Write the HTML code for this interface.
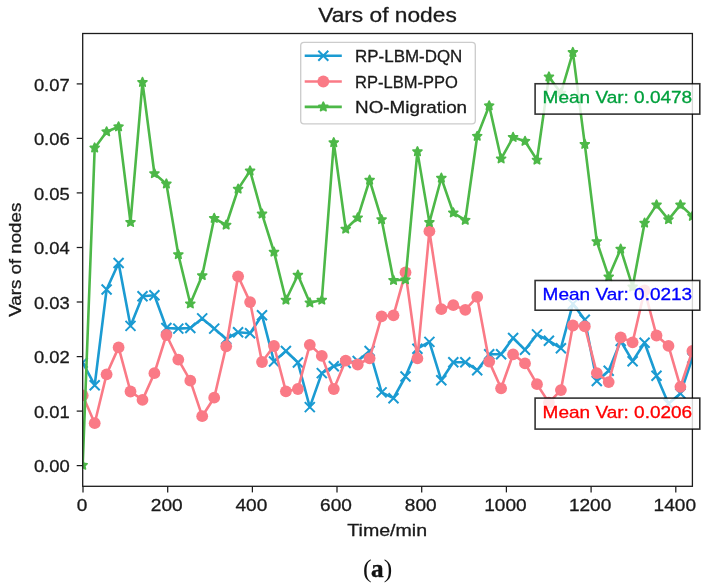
<!DOCTYPE html>
<html><head><meta charset="utf-8"><title>Vars of nodes</title>
<style>
html,body{margin:0;padding:0;background:#fff;}
body{width:707px;height:588px;position:relative;overflow:hidden;font-family:"Liberation Sans",sans-serif;}
svg text{font-family:"Liberation Sans",sans-serif;}
svg{will-change:transform;opacity:0.999;}
</style></head><body>
<svg width="707" height="588" viewBox="0 0 707 588" style="position:absolute;left:0;top:0">
<rect x="0" y="0" width="707" height="588" fill="#fff"/>
<defs><clipPath id="ax"><rect x="82.7" y="33.5" width="609.7" height="452.8"/></clipPath></defs>
<g clip-path="url(#ax)">
<polyline points="82.7,362.6 94.7,385.2 106.6,289.5 118.6,263.0 130.5,325.9 142.5,296.3 154.4,295.2 166.4,328.0 178.3,328.6 190.3,328.0 202.2,318.4 214.2,328.6 226.2,339.0 238.1,332.2 250.1,333.3 262.0,315.2 274.0,361.5 285.9,351.0 297.9,362.5 309.8,407.1 321.8,373.1 333.8,366.2 345.7,363.0 357.7,361.0 369.6,351.0 381.6,392.4 393.5,398.2 405.5,376.5 417.4,348.7 429.4,341.9 441.3,380.3 453.3,362.2 465.3,362.2 477.2,370.2 489.2,354.3 501.1,354.3 513.1,338.0 525.0,349.8 537.0,334.4 548.9,340.8 560.9,348.2 572.9,303.9 584.8,319.8 596.8,381.0 608.7,370.8 620.7,341.0 632.6,361.2 644.6,342.8 656.5,375.8 668.5,403.7 680.4,393.5 692.4,358.0" fill="none" stroke="#1b9bd2" stroke-width="2.60" stroke-linejoin="round" stroke-linecap="butt"/>
<path d="M77.7 357.6L87.7 367.6M77.7 367.6L87.7 357.6" stroke="#1b9bd2" stroke-width="2.00" fill="none"/>
<path d="M89.7 380.2L99.7 390.2M89.7 390.2L99.7 380.2" stroke="#1b9bd2" stroke-width="2.00" fill="none"/>
<path d="M101.6 284.5L111.6 294.5M101.6 294.5L111.6 284.5" stroke="#1b9bd2" stroke-width="2.00" fill="none"/>
<path d="M113.6 258.0L123.6 268.0M113.6 268.0L123.6 258.0" stroke="#1b9bd2" stroke-width="2.00" fill="none"/>
<path d="M125.5 320.9L135.5 330.9M125.5 330.9L135.5 320.9" stroke="#1b9bd2" stroke-width="2.00" fill="none"/>
<path d="M137.5 291.3L147.5 301.3M137.5 301.3L147.5 291.3" stroke="#1b9bd2" stroke-width="2.00" fill="none"/>
<path d="M149.4 290.2L159.4 300.2M149.4 300.2L159.4 290.2" stroke="#1b9bd2" stroke-width="2.00" fill="none"/>
<path d="M161.4 323.0L171.4 333.0M161.4 333.0L171.4 323.0" stroke="#1b9bd2" stroke-width="2.00" fill="none"/>
<path d="M173.3 323.6L183.3 333.6M173.3 333.6L183.3 323.6" stroke="#1b9bd2" stroke-width="2.00" fill="none"/>
<path d="M185.3 323.0L195.3 333.0M185.3 333.0L195.3 323.0" stroke="#1b9bd2" stroke-width="2.00" fill="none"/>
<path d="M197.2 313.4L207.2 323.4M197.2 323.4L207.2 313.4" stroke="#1b9bd2" stroke-width="2.00" fill="none"/>
<path d="M209.2 323.6L219.2 333.6M209.2 333.6L219.2 323.6" stroke="#1b9bd2" stroke-width="2.00" fill="none"/>
<path d="M221.2 334.0L231.2 344.0M221.2 344.0L231.2 334.0" stroke="#1b9bd2" stroke-width="2.00" fill="none"/>
<path d="M233.1 327.2L243.1 337.2M233.1 337.2L243.1 327.2" stroke="#1b9bd2" stroke-width="2.00" fill="none"/>
<path d="M245.1 328.3L255.1 338.3M245.1 338.3L255.1 328.3" stroke="#1b9bd2" stroke-width="2.00" fill="none"/>
<path d="M257.0 310.2L267.0 320.2M257.0 320.2L267.0 310.2" stroke="#1b9bd2" stroke-width="2.00" fill="none"/>
<path d="M269.0 356.5L279.0 366.5M269.0 366.5L279.0 356.5" stroke="#1b9bd2" stroke-width="2.00" fill="none"/>
<path d="M280.9 346.0L290.9 356.0M280.9 356.0L290.9 346.0" stroke="#1b9bd2" stroke-width="2.00" fill="none"/>
<path d="M292.9 357.5L302.9 367.5M292.9 367.5L302.9 357.5" stroke="#1b9bd2" stroke-width="2.00" fill="none"/>
<path d="M304.8 402.1L314.8 412.1M304.8 412.1L314.8 402.1" stroke="#1b9bd2" stroke-width="2.00" fill="none"/>
<path d="M316.8 368.1L326.8 378.1M316.8 378.1L326.8 368.1" stroke="#1b9bd2" stroke-width="2.00" fill="none"/>
<path d="M328.8 361.2L338.8 371.2M328.8 371.2L338.8 361.2" stroke="#1b9bd2" stroke-width="2.00" fill="none"/>
<path d="M340.7 358.0L350.7 368.0M340.7 368.0L350.7 358.0" stroke="#1b9bd2" stroke-width="2.00" fill="none"/>
<path d="M352.7 356.0L362.7 366.0M352.7 366.0L362.7 356.0" stroke="#1b9bd2" stroke-width="2.00" fill="none"/>
<path d="M364.6 346.0L374.6 356.0M364.6 356.0L374.6 346.0" stroke="#1b9bd2" stroke-width="2.00" fill="none"/>
<path d="M376.6 387.4L386.6 397.4M376.6 397.4L386.6 387.4" stroke="#1b9bd2" stroke-width="2.00" fill="none"/>
<path d="M388.5 393.2L398.5 403.2M388.5 403.2L398.5 393.2" stroke="#1b9bd2" stroke-width="2.00" fill="none"/>
<path d="M400.5 371.5L410.5 381.5M400.5 381.5L410.5 371.5" stroke="#1b9bd2" stroke-width="2.00" fill="none"/>
<path d="M412.4 343.7L422.4 353.7M412.4 353.7L422.4 343.7" stroke="#1b9bd2" stroke-width="2.00" fill="none"/>
<path d="M424.4 336.9L434.4 346.9M424.4 346.9L434.4 336.9" stroke="#1b9bd2" stroke-width="2.00" fill="none"/>
<path d="M436.3 375.3L446.3 385.3M436.3 385.3L446.3 375.3" stroke="#1b9bd2" stroke-width="2.00" fill="none"/>
<path d="M448.3 357.2L458.3 367.2M448.3 367.2L458.3 357.2" stroke="#1b9bd2" stroke-width="2.00" fill="none"/>
<path d="M460.3 357.2L470.3 367.2M460.3 367.2L470.3 357.2" stroke="#1b9bd2" stroke-width="2.00" fill="none"/>
<path d="M472.2 365.2L482.2 375.2M472.2 375.2L482.2 365.2" stroke="#1b9bd2" stroke-width="2.00" fill="none"/>
<path d="M484.2 349.3L494.2 359.3M484.2 359.3L494.2 349.3" stroke="#1b9bd2" stroke-width="2.00" fill="none"/>
<path d="M496.1 349.3L506.1 359.3M496.1 359.3L506.1 349.3" stroke="#1b9bd2" stroke-width="2.00" fill="none"/>
<path d="M508.1 333.0L518.1 343.0M508.1 343.0L518.1 333.0" stroke="#1b9bd2" stroke-width="2.00" fill="none"/>
<path d="M520.0 344.8L530.0 354.8M520.0 354.8L530.0 344.8" stroke="#1b9bd2" stroke-width="2.00" fill="none"/>
<path d="M532.0 329.4L542.0 339.4M532.0 339.4L542.0 329.4" stroke="#1b9bd2" stroke-width="2.00" fill="none"/>
<path d="M543.9 335.8L553.9 345.8M543.9 345.8L553.9 335.8" stroke="#1b9bd2" stroke-width="2.00" fill="none"/>
<path d="M555.9 343.2L565.9 353.2M555.9 353.2L565.9 343.2" stroke="#1b9bd2" stroke-width="2.00" fill="none"/>
<path d="M567.9 298.9L577.9 308.9M567.9 308.9L577.9 298.9" stroke="#1b9bd2" stroke-width="2.00" fill="none"/>
<path d="M579.8 314.8L589.8 324.8M579.8 324.8L589.8 314.8" stroke="#1b9bd2" stroke-width="2.00" fill="none"/>
<path d="M591.8 376.0L601.8 386.0M591.8 386.0L601.8 376.0" stroke="#1b9bd2" stroke-width="2.00" fill="none"/>
<path d="M603.7 365.8L613.7 375.8M603.7 375.8L613.7 365.8" stroke="#1b9bd2" stroke-width="2.00" fill="none"/>
<path d="M615.7 336.0L625.7 346.0M615.7 346.0L625.7 336.0" stroke="#1b9bd2" stroke-width="2.00" fill="none"/>
<path d="M627.6 356.2L637.6 366.2M627.6 366.2L637.6 356.2" stroke="#1b9bd2" stroke-width="2.00" fill="none"/>
<path d="M639.6 337.8L649.6 347.8M639.6 347.8L649.6 337.8" stroke="#1b9bd2" stroke-width="2.00" fill="none"/>
<path d="M651.5 370.8L661.5 380.8M651.5 380.8L661.5 370.8" stroke="#1b9bd2" stroke-width="2.00" fill="none"/>
<path d="M663.5 398.7L673.5 408.7M663.5 408.7L673.5 398.7" stroke="#1b9bd2" stroke-width="2.00" fill="none"/>
<path d="M675.4 388.5L685.4 398.5M675.4 398.5L685.4 388.5" stroke="#1b9bd2" stroke-width="2.00" fill="none"/>
<path d="M687.4 353.0L697.4 363.0M687.4 363.0L697.4 353.0" stroke="#1b9bd2" stroke-width="2.00" fill="none"/>
<polyline points="82.7,395.4 94.7,423.2 106.6,374.3 118.6,347.4 130.5,391.5 142.5,399.9 154.4,373.2 166.4,335.0 178.3,359.6 190.3,380.7 202.2,416.2 214.2,397.7 226.2,346.3 238.1,276.3 250.1,302.1 262.0,362.0 274.0,346.0 285.9,391.3 297.9,389.0 309.8,344.8 321.8,355.9 333.8,389.0 345.7,360.6 357.7,364.5 369.6,358.3 381.6,316.4 393.5,315.3 405.5,272.4 417.4,358.4 429.4,231.2 441.3,309.2 453.3,305.2 465.3,309.8 477.2,296.9 489.2,361.6 501.1,388.3 513.1,354.3 525.0,363.4 537.0,384.2 548.9,402.6 560.9,390.1 572.9,325.5 584.8,326.4 596.8,373.1 608.7,382.1 620.7,337.5 632.6,342.3 644.6,290.3 656.5,335.5 668.5,345.9 680.4,386.8 692.4,351.0" fill="none" stroke="#fa7a86" stroke-width="2.60" stroke-linejoin="round" stroke-linecap="butt"/>
<circle cx="82.7" cy="395.4" r="5.90" fill="#fa7a86"/>
<circle cx="94.7" cy="423.2" r="5.90" fill="#fa7a86"/>
<circle cx="106.6" cy="374.3" r="5.90" fill="#fa7a86"/>
<circle cx="118.6" cy="347.4" r="5.90" fill="#fa7a86"/>
<circle cx="130.5" cy="391.5" r="5.90" fill="#fa7a86"/>
<circle cx="142.5" cy="399.9" r="5.90" fill="#fa7a86"/>
<circle cx="154.4" cy="373.2" r="5.90" fill="#fa7a86"/>
<circle cx="166.4" cy="335.0" r="5.90" fill="#fa7a86"/>
<circle cx="178.3" cy="359.6" r="5.90" fill="#fa7a86"/>
<circle cx="190.3" cy="380.7" r="5.90" fill="#fa7a86"/>
<circle cx="202.2" cy="416.2" r="5.90" fill="#fa7a86"/>
<circle cx="214.2" cy="397.7" r="5.90" fill="#fa7a86"/>
<circle cx="226.2" cy="346.3" r="5.90" fill="#fa7a86"/>
<circle cx="238.1" cy="276.3" r="5.90" fill="#fa7a86"/>
<circle cx="250.1" cy="302.1" r="5.90" fill="#fa7a86"/>
<circle cx="262.0" cy="362.0" r="5.90" fill="#fa7a86"/>
<circle cx="274.0" cy="346.0" r="5.90" fill="#fa7a86"/>
<circle cx="285.9" cy="391.3" r="5.90" fill="#fa7a86"/>
<circle cx="297.9" cy="389.0" r="5.90" fill="#fa7a86"/>
<circle cx="309.8" cy="344.8" r="5.90" fill="#fa7a86"/>
<circle cx="321.8" cy="355.9" r="5.90" fill="#fa7a86"/>
<circle cx="333.8" cy="389.0" r="5.90" fill="#fa7a86"/>
<circle cx="345.7" cy="360.6" r="5.90" fill="#fa7a86"/>
<circle cx="357.7" cy="364.5" r="5.90" fill="#fa7a86"/>
<circle cx="369.6" cy="358.3" r="5.90" fill="#fa7a86"/>
<circle cx="381.6" cy="316.4" r="5.90" fill="#fa7a86"/>
<circle cx="393.5" cy="315.3" r="5.90" fill="#fa7a86"/>
<circle cx="405.5" cy="272.4" r="5.90" fill="#fa7a86"/>
<circle cx="417.4" cy="358.4" r="5.90" fill="#fa7a86"/>
<circle cx="429.4" cy="231.2" r="5.90" fill="#fa7a86"/>
<circle cx="441.3" cy="309.2" r="5.90" fill="#fa7a86"/>
<circle cx="453.3" cy="305.2" r="5.90" fill="#fa7a86"/>
<circle cx="465.3" cy="309.8" r="5.90" fill="#fa7a86"/>
<circle cx="477.2" cy="296.9" r="5.90" fill="#fa7a86"/>
<circle cx="489.2" cy="361.6" r="5.90" fill="#fa7a86"/>
<circle cx="501.1" cy="388.3" r="5.90" fill="#fa7a86"/>
<circle cx="513.1" cy="354.3" r="5.90" fill="#fa7a86"/>
<circle cx="525.0" cy="363.4" r="5.90" fill="#fa7a86"/>
<circle cx="537.0" cy="384.2" r="5.90" fill="#fa7a86"/>
<circle cx="548.9" cy="402.6" r="5.90" fill="#fa7a86"/>
<circle cx="560.9" cy="390.1" r="5.90" fill="#fa7a86"/>
<circle cx="572.9" cy="325.5" r="5.90" fill="#fa7a86"/>
<circle cx="584.8" cy="326.4" r="5.90" fill="#fa7a86"/>
<circle cx="596.8" cy="373.1" r="5.90" fill="#fa7a86"/>
<circle cx="608.7" cy="382.1" r="5.90" fill="#fa7a86"/>
<circle cx="620.7" cy="337.5" r="5.90" fill="#fa7a86"/>
<circle cx="632.6" cy="342.3" r="5.90" fill="#fa7a86"/>
<circle cx="644.6" cy="290.3" r="5.90" fill="#fa7a86"/>
<circle cx="656.5" cy="335.5" r="5.90" fill="#fa7a86"/>
<circle cx="668.5" cy="345.9" r="5.90" fill="#fa7a86"/>
<circle cx="680.4" cy="386.8" r="5.90" fill="#fa7a86"/>
<circle cx="692.4" cy="351.0" r="5.90" fill="#fa7a86"/>
<polyline points="82.7,465.2 94.7,147.9 106.6,131.7 118.6,126.7 130.5,222.3 142.5,82.3 154.4,173.5 166.4,183.9 178.3,254.5 190.3,303.8 202.2,275.5 214.2,218.3 226.2,225.0 238.1,189.0 250.1,170.9 262.0,213.9 274.0,252.0 285.9,300.0 297.9,275.0 309.8,302.8 321.8,300.0 333.8,142.6 345.7,229.0 357.7,217.8 369.6,180.0 381.6,219.6 393.5,280.3 405.5,279.7 417.4,151.6 429.4,222.4 441.3,178.0 453.3,212.8 465.3,220.2 477.2,136.2 489.2,105.7 501.1,158.8 513.1,137.3 525.0,141.2 537.0,160.0 548.9,76.9 560.9,93.0 572.9,52.4 584.8,144.3 596.8,241.5 608.7,276.8 620.7,249.0 632.6,286.9 644.6,223.0 656.5,204.9 668.5,219.6 680.4,204.9 692.4,216.2" fill="none" stroke="#4db848" stroke-width="2.60" stroke-linejoin="round" stroke-linecap="butt"/>
<polygon points="82.70,460.50 83.99,463.42 87.17,463.75 84.79,465.88 85.46,469.00 82.70,467.40 79.94,469.00 80.61,465.88 78.23,463.75 81.41,463.42" fill="#4db848" stroke="#4db848" stroke-width="1.67" stroke-linejoin="round"/>
<polygon points="94.65,143.20 95.95,146.12 99.12,146.45 96.75,148.58 97.42,151.70 94.65,150.10 91.89,151.70 92.56,148.58 90.18,146.45 93.36,146.12" fill="#4db848" stroke="#4db848" stroke-width="1.67" stroke-linejoin="round"/>
<polygon points="106.61,127.00 107.90,129.92 111.08,130.25 108.70,132.38 109.37,135.50 106.61,133.90 103.85,135.50 104.52,132.38 102.14,130.25 105.32,129.92" fill="#4db848" stroke="#4db848" stroke-width="1.67" stroke-linejoin="round"/>
<polygon points="118.56,122.00 119.86,124.92 123.03,125.25 120.66,127.38 121.33,130.50 118.56,128.90 115.80,130.50 116.47,127.38 114.09,125.25 117.27,124.92" fill="#4db848" stroke="#4db848" stroke-width="1.67" stroke-linejoin="round"/>
<polygon points="130.52,217.60 131.81,220.52 134.99,220.85 132.61,222.98 133.28,226.10 130.52,224.50 127.76,226.10 128.43,222.98 126.05,220.85 129.23,220.52" fill="#4db848" stroke="#4db848" stroke-width="1.67" stroke-linejoin="round"/>
<polygon points="142.47,77.60 143.77,80.52 146.94,80.85 144.57,82.98 145.24,86.10 142.47,84.50 139.71,86.10 140.38,82.98 138.00,80.85 141.18,80.52" fill="#4db848" stroke="#4db848" stroke-width="1.67" stroke-linejoin="round"/>
<polygon points="154.43,168.80 155.72,171.72 158.90,172.05 156.52,174.18 157.19,177.30 154.43,175.70 151.67,177.30 152.34,174.18 149.96,172.05 153.14,171.72" fill="#4db848" stroke="#4db848" stroke-width="1.67" stroke-linejoin="round"/>
<polygon points="166.38,179.20 167.68,182.12 170.85,182.45 168.48,184.58 169.15,187.70 166.38,186.10 163.62,187.70 164.29,184.58 161.91,182.45 165.09,182.12" fill="#4db848" stroke="#4db848" stroke-width="1.67" stroke-linejoin="round"/>
<polygon points="178.34,249.80 179.63,252.72 182.81,253.05 180.43,255.18 181.10,258.30 178.34,256.70 175.58,258.30 176.25,255.18 173.87,253.05 177.05,252.72" fill="#4db848" stroke="#4db848" stroke-width="1.67" stroke-linejoin="round"/>
<polygon points="190.29,299.10 191.59,302.02 194.76,302.35 192.39,304.48 193.06,307.60 190.29,306.00 187.53,307.60 188.20,304.48 185.82,302.35 189.00,302.02" fill="#4db848" stroke="#4db848" stroke-width="1.67" stroke-linejoin="round"/>
<polygon points="202.25,270.80 203.54,273.72 206.72,274.05 204.34,276.18 205.01,279.30 202.25,277.70 199.49,279.30 200.16,276.18 197.78,274.05 200.96,273.72" fill="#4db848" stroke="#4db848" stroke-width="1.67" stroke-linejoin="round"/>
<polygon points="214.20,213.60 215.50,216.52 218.67,216.85 216.30,218.98 216.97,222.10 214.20,220.50 211.44,222.10 212.11,218.98 209.73,216.85 212.91,216.52" fill="#4db848" stroke="#4db848" stroke-width="1.67" stroke-linejoin="round"/>
<polygon points="226.16,220.30 227.45,223.22 230.63,223.55 228.25,225.68 228.92,228.80 226.16,227.20 223.40,228.80 224.07,225.68 221.69,223.55 224.87,223.22" fill="#4db848" stroke="#4db848" stroke-width="1.67" stroke-linejoin="round"/>
<polygon points="238.11,184.30 239.41,187.22 242.58,187.55 240.21,189.68 240.88,192.80 238.11,191.20 235.35,192.80 236.02,189.68 233.64,187.55 236.82,187.22" fill="#4db848" stroke="#4db848" stroke-width="1.67" stroke-linejoin="round"/>
<polygon points="250.07,166.20 251.36,169.12 254.54,169.45 252.16,171.58 252.83,174.70 250.07,173.10 247.31,174.70 247.98,171.58 245.60,169.45 248.78,169.12" fill="#4db848" stroke="#4db848" stroke-width="1.67" stroke-linejoin="round"/>
<polygon points="262.02,209.20 263.32,212.12 266.49,212.45 264.12,214.58 264.79,217.70 262.02,216.10 259.26,217.70 259.93,214.58 257.55,212.45 260.73,212.12" fill="#4db848" stroke="#4db848" stroke-width="1.67" stroke-linejoin="round"/>
<polygon points="273.98,247.30 275.27,250.22 278.45,250.55 276.07,252.68 276.74,255.80 273.98,254.20 271.22,255.80 271.89,252.68 269.51,250.55 272.69,250.22" fill="#4db848" stroke="#4db848" stroke-width="1.67" stroke-linejoin="round"/>
<polygon points="285.93,295.30 287.23,298.22 290.40,298.55 288.03,300.68 288.70,303.80 285.93,302.20 283.17,303.80 283.84,300.68 281.46,298.55 284.64,298.22" fill="#4db848" stroke="#4db848" stroke-width="1.67" stroke-linejoin="round"/>
<polygon points="297.89,270.30 299.18,273.22 302.36,273.55 299.98,275.68 300.65,278.80 297.89,277.20 295.13,278.80 295.80,275.68 293.42,273.55 296.60,273.22" fill="#4db848" stroke="#4db848" stroke-width="1.67" stroke-linejoin="round"/>
<polygon points="309.84,298.10 311.14,301.02 314.31,301.35 311.94,303.48 312.61,306.60 309.84,305.00 307.08,306.60 307.75,303.48 305.37,301.35 308.55,301.02" fill="#4db848" stroke="#4db848" stroke-width="1.67" stroke-linejoin="round"/>
<polygon points="321.80,295.30 323.09,298.22 326.27,298.55 323.89,300.68 324.56,303.80 321.80,302.20 319.04,303.80 319.71,300.68 317.33,298.55 320.50,298.22" fill="#4db848" stroke="#4db848" stroke-width="1.67" stroke-linejoin="round"/>
<polygon points="333.75,137.90 335.05,140.82 338.22,141.15 335.85,143.28 336.52,146.40 333.75,144.80 330.99,146.40 331.66,143.28 329.28,141.15 332.46,140.82" fill="#4db848" stroke="#4db848" stroke-width="1.67" stroke-linejoin="round"/>
<polygon points="345.71,224.30 347.00,227.22 350.18,227.55 347.80,229.68 348.47,232.80 345.71,231.20 342.95,232.80 343.62,229.68 341.24,227.55 344.41,227.22" fill="#4db848" stroke="#4db848" stroke-width="1.67" stroke-linejoin="round"/>
<polygon points="357.66,213.10 358.96,216.02 362.13,216.35 359.76,218.48 360.43,221.60 357.66,220.00 354.90,221.60 355.57,218.48 353.19,216.35 356.37,216.02" fill="#4db848" stroke="#4db848" stroke-width="1.67" stroke-linejoin="round"/>
<polygon points="369.62,175.30 370.91,178.22 374.09,178.55 371.71,180.68 372.38,183.80 369.62,182.20 366.86,183.80 367.53,180.68 365.15,178.55 368.32,178.22" fill="#4db848" stroke="#4db848" stroke-width="1.67" stroke-linejoin="round"/>
<polygon points="381.57,214.90 382.87,217.82 386.04,218.15 383.66,220.28 384.34,223.40 381.57,221.80 378.81,223.40 379.48,220.28 377.10,218.15 380.28,217.82" fill="#4db848" stroke="#4db848" stroke-width="1.67" stroke-linejoin="round"/>
<polygon points="393.53,275.60 394.82,278.52 398.00,278.85 395.62,280.98 396.29,284.10 393.53,282.50 390.76,284.10 391.44,280.98 389.06,278.85 392.23,278.52" fill="#4db848" stroke="#4db848" stroke-width="1.67" stroke-linejoin="round"/>
<polygon points="405.48,275.00 406.78,277.92 409.95,278.25 407.57,280.38 408.24,283.50 405.48,281.90 402.72,283.50 403.39,280.38 401.01,278.25 404.19,277.92" fill="#4db848" stroke="#4db848" stroke-width="1.67" stroke-linejoin="round"/>
<polygon points="417.44,146.90 418.73,149.82 421.91,150.15 419.53,152.28 420.20,155.40 417.44,153.80 414.67,155.40 415.34,152.28 412.97,150.15 416.14,149.82" fill="#4db848" stroke="#4db848" stroke-width="1.67" stroke-linejoin="round"/>
<polygon points="429.39,217.70 430.69,220.62 433.86,220.95 431.48,223.08 432.15,226.20 429.39,224.60 426.63,226.20 427.30,223.08 424.92,220.95 428.10,220.62" fill="#4db848" stroke="#4db848" stroke-width="1.67" stroke-linejoin="round"/>
<polygon points="441.35,173.30 442.64,176.22 445.82,176.55 443.44,178.68 444.11,181.80 441.35,180.20 438.58,181.80 439.25,178.68 436.88,176.55 440.05,176.22" fill="#4db848" stroke="#4db848" stroke-width="1.67" stroke-linejoin="round"/>
<polygon points="453.30,208.10 454.60,211.02 457.77,211.35 455.39,213.48 456.06,216.60 453.30,215.00 450.54,216.60 451.21,213.48 448.83,211.35 452.01,211.02" fill="#4db848" stroke="#4db848" stroke-width="1.67" stroke-linejoin="round"/>
<polygon points="465.26,215.50 466.55,218.42 469.73,218.75 467.35,220.88 468.02,224.00 465.26,222.40 462.49,224.00 463.16,220.88 460.79,218.75 463.96,218.42" fill="#4db848" stroke="#4db848" stroke-width="1.67" stroke-linejoin="round"/>
<polygon points="477.21,131.50 478.50,134.42 481.68,134.75 479.30,136.88 479.97,140.00 477.21,138.40 474.45,140.00 475.12,136.88 472.74,134.75 475.92,134.42" fill="#4db848" stroke="#4db848" stroke-width="1.67" stroke-linejoin="round"/>
<polygon points="489.17,101.00 490.46,103.92 493.64,104.25 491.26,106.38 491.93,109.50 489.17,107.90 486.40,109.50 487.07,106.38 484.70,104.25 487.87,103.92" fill="#4db848" stroke="#4db848" stroke-width="1.67" stroke-linejoin="round"/>
<polygon points="501.12,154.10 502.41,157.02 505.59,157.35 503.21,159.48 503.88,162.60 501.12,161.00 498.36,162.60 499.03,159.48 496.65,157.35 499.83,157.02" fill="#4db848" stroke="#4db848" stroke-width="1.67" stroke-linejoin="round"/>
<polygon points="513.08,132.60 514.37,135.52 517.55,135.85 515.17,137.98 515.84,141.10 513.08,139.50 510.31,141.10 510.98,137.98 508.61,135.85 511.78,135.52" fill="#4db848" stroke="#4db848" stroke-width="1.67" stroke-linejoin="round"/>
<polygon points="525.03,136.50 526.32,139.42 529.50,139.75 527.12,141.88 527.79,145.00 525.03,143.40 522.27,145.00 522.94,141.88 520.56,139.75 523.74,139.42" fill="#4db848" stroke="#4db848" stroke-width="1.67" stroke-linejoin="round"/>
<polygon points="536.99,155.30 538.28,158.22 541.46,158.55 539.08,160.68 539.75,163.80 536.99,162.20 534.22,163.80 534.89,160.68 532.52,158.55 535.69,158.22" fill="#4db848" stroke="#4db848" stroke-width="1.67" stroke-linejoin="round"/>
<polygon points="548.94,72.20 550.23,75.12 553.41,75.45 551.03,77.58 551.70,80.70 548.94,79.10 546.18,80.70 546.85,77.58 544.47,75.45 547.65,75.12" fill="#4db848" stroke="#4db848" stroke-width="1.67" stroke-linejoin="round"/>
<polygon points="560.90,88.30 562.19,91.22 565.37,91.55 562.99,93.68 563.66,96.80 560.90,95.20 558.13,96.80 558.80,93.68 556.43,91.55 559.60,91.22" fill="#4db848" stroke="#4db848" stroke-width="1.67" stroke-linejoin="round"/>
<polygon points="572.85,47.70 574.14,50.62 577.32,50.95 574.94,53.08 575.61,56.20 572.85,54.60 570.09,56.20 570.76,53.08 568.38,50.95 571.56,50.62" fill="#4db848" stroke="#4db848" stroke-width="1.67" stroke-linejoin="round"/>
<polygon points="584.81,139.60 586.10,142.52 589.28,142.85 586.90,144.98 587.57,148.10 584.81,146.50 582.04,148.10 582.71,144.98 580.34,142.85 583.51,142.52" fill="#4db848" stroke="#4db848" stroke-width="1.67" stroke-linejoin="round"/>
<polygon points="596.76,236.80 598.05,239.72 601.23,240.05 598.85,242.18 599.52,245.30 596.76,243.70 594.00,245.30 594.67,242.18 592.29,240.05 595.47,239.72" fill="#4db848" stroke="#4db848" stroke-width="1.67" stroke-linejoin="round"/>
<polygon points="608.72,272.10 610.01,275.02 613.19,275.35 610.81,277.48 611.48,280.60 608.72,279.00 605.95,280.60 606.62,277.48 604.25,275.35 607.42,275.02" fill="#4db848" stroke="#4db848" stroke-width="1.67" stroke-linejoin="round"/>
<polygon points="620.67,244.30 621.96,247.22 625.14,247.55 622.76,249.68 623.43,252.80 620.67,251.20 617.91,252.80 618.58,249.68 616.20,247.55 619.38,247.22" fill="#4db848" stroke="#4db848" stroke-width="1.67" stroke-linejoin="round"/>
<polygon points="632.63,282.20 633.92,285.12 637.10,285.45 634.72,287.58 635.39,290.70 632.63,289.10 629.86,290.70 630.53,287.58 628.16,285.45 631.33,285.12" fill="#4db848" stroke="#4db848" stroke-width="1.67" stroke-linejoin="round"/>
<polygon points="644.58,218.30 645.87,221.22 649.05,221.55 646.67,223.68 647.34,226.80 644.58,225.20 641.82,226.80 642.49,223.68 640.11,221.55 643.29,221.22" fill="#4db848" stroke="#4db848" stroke-width="1.67" stroke-linejoin="round"/>
<polygon points="656.54,200.20 657.83,203.12 661.01,203.45 658.63,205.58 659.30,208.70 656.54,207.10 653.77,208.70 654.44,205.58 652.07,203.45 655.24,203.12" fill="#4db848" stroke="#4db848" stroke-width="1.67" stroke-linejoin="round"/>
<polygon points="668.49,214.90 669.78,217.82 672.96,218.15 670.58,220.28 671.25,223.40 668.49,221.80 665.73,223.40 666.40,220.28 664.02,218.15 667.20,217.82" fill="#4db848" stroke="#4db848" stroke-width="1.67" stroke-linejoin="round"/>
<polygon points="680.45,200.20 681.74,203.12 684.92,203.45 682.54,205.58 683.21,208.70 680.45,207.10 677.68,208.70 678.35,205.58 675.98,203.45 679.15,203.12" fill="#4db848" stroke="#4db848" stroke-width="1.67" stroke-linejoin="round"/>
<polygon points="692.40,211.50 693.69,214.42 696.87,214.75 694.49,216.88 695.16,220.00 692.40,218.40 689.64,220.00 690.31,216.88 687.93,214.75 691.11,214.42" fill="#4db848" stroke="#4db848" stroke-width="1.67" stroke-linejoin="round"/>
</g>
<rect x="82.7" y="33.5" width="609.7" height="452.8" fill="none" stroke="#1c1c1c" stroke-width="1.3"/>
<line x1="76.7" y1="465.6" x2="82.7" y2="465.6" stroke="#1c1c1c" stroke-width="1.25"/>
<text x="69.7" y="472.2" text-anchor="end" font-size="17.00" fill="#1a1a1a" stroke="#1a1a1a" stroke-width="0.3" textLength="35.8" lengthAdjust="spacingAndGlyphs">0.00</text>
<line x1="76.7" y1="411.1" x2="82.7" y2="411.1" stroke="#1c1c1c" stroke-width="1.25"/>
<text x="69.7" y="417.7" text-anchor="end" font-size="17.00" fill="#1a1a1a" stroke="#1a1a1a" stroke-width="0.3" textLength="35.8" lengthAdjust="spacingAndGlyphs">0.01</text>
<line x1="76.7" y1="356.6" x2="82.7" y2="356.6" stroke="#1c1c1c" stroke-width="1.25"/>
<text x="69.7" y="363.2" text-anchor="end" font-size="17.00" fill="#1a1a1a" stroke="#1a1a1a" stroke-width="0.3" textLength="35.8" lengthAdjust="spacingAndGlyphs">0.02</text>
<line x1="76.7" y1="302.0" x2="82.7" y2="302.0" stroke="#1c1c1c" stroke-width="1.25"/>
<text x="69.7" y="308.6" text-anchor="end" font-size="17.00" fill="#1a1a1a" stroke="#1a1a1a" stroke-width="0.3" textLength="35.8" lengthAdjust="spacingAndGlyphs">0.03</text>
<line x1="76.7" y1="247.5" x2="82.7" y2="247.5" stroke="#1c1c1c" stroke-width="1.25"/>
<text x="69.7" y="254.1" text-anchor="end" font-size="17.00" fill="#1a1a1a" stroke="#1a1a1a" stroke-width="0.3" textLength="35.8" lengthAdjust="spacingAndGlyphs">0.04</text>
<line x1="76.7" y1="192.9" x2="82.7" y2="192.9" stroke="#1c1c1c" stroke-width="1.25"/>
<text x="69.7" y="199.5" text-anchor="end" font-size="17.00" fill="#1a1a1a" stroke="#1a1a1a" stroke-width="0.3" textLength="35.8" lengthAdjust="spacingAndGlyphs">0.05</text>
<line x1="76.7" y1="138.4" x2="82.7" y2="138.4" stroke="#1c1c1c" stroke-width="1.25"/>
<text x="69.7" y="145.0" text-anchor="end" font-size="17.00" fill="#1a1a1a" stroke="#1a1a1a" stroke-width="0.3" textLength="35.8" lengthAdjust="spacingAndGlyphs">0.06</text>
<line x1="76.7" y1="83.9" x2="82.7" y2="83.9" stroke="#1c1c1c" stroke-width="1.25"/>
<text x="69.7" y="90.5" text-anchor="end" font-size="17.00" fill="#1a1a1a" stroke="#1a1a1a" stroke-width="0.3" textLength="35.8" lengthAdjust="spacingAndGlyphs">0.07</text>
<line x1="83.0" y1="486.3" x2="83.0" y2="492.4" stroke="#1c1c1c" stroke-width="1.25"/>
<text x="82.0" y="511.4" text-anchor="middle" font-size="17.00" fill="#1a1a1a" stroke="#1a1a1a" stroke-width="0.3" textLength="10.6" lengthAdjust="spacingAndGlyphs">0</text>
<line x1="167.7" y1="486.3" x2="167.7" y2="492.4" stroke="#1c1c1c" stroke-width="1.25"/>
<text x="166.7" y="511.4" text-anchor="middle" font-size="17.00" fill="#1a1a1a" stroke="#1a1a1a" stroke-width="0.3" textLength="31.8" lengthAdjust="spacingAndGlyphs">200</text>
<line x1="252.4" y1="486.3" x2="252.4" y2="492.4" stroke="#1c1c1c" stroke-width="1.25"/>
<text x="251.4" y="511.4" text-anchor="middle" font-size="17.00" fill="#1a1a1a" stroke="#1a1a1a" stroke-width="0.3" textLength="31.8" lengthAdjust="spacingAndGlyphs">400</text>
<line x1="337.0" y1="486.3" x2="337.0" y2="492.4" stroke="#1c1c1c" stroke-width="1.25"/>
<text x="336.0" y="511.4" text-anchor="middle" font-size="17.00" fill="#1a1a1a" stroke="#1a1a1a" stroke-width="0.3" textLength="31.8" lengthAdjust="spacingAndGlyphs">600</text>
<line x1="421.7" y1="486.3" x2="421.7" y2="492.4" stroke="#1c1c1c" stroke-width="1.25"/>
<text x="420.7" y="511.4" text-anchor="middle" font-size="17.00" fill="#1a1a1a" stroke="#1a1a1a" stroke-width="0.3" textLength="31.8" lengthAdjust="spacingAndGlyphs">800</text>
<line x1="506.4" y1="486.3" x2="506.4" y2="492.4" stroke="#1c1c1c" stroke-width="1.25"/>
<text x="505.4" y="511.4" text-anchor="middle" font-size="17.00" fill="#1a1a1a" stroke="#1a1a1a" stroke-width="0.3" textLength="42.4" lengthAdjust="spacingAndGlyphs">1000</text>
<line x1="591.1" y1="486.3" x2="591.1" y2="492.4" stroke="#1c1c1c" stroke-width="1.25"/>
<text x="590.1" y="511.4" text-anchor="middle" font-size="17.00" fill="#1a1a1a" stroke="#1a1a1a" stroke-width="0.3" textLength="42.4" lengthAdjust="spacingAndGlyphs">1200</text>
<line x1="675.8" y1="486.3" x2="675.8" y2="492.4" stroke="#1c1c1c" stroke-width="1.25"/>
<text x="674.8" y="511.4" text-anchor="middle" font-size="17.00" fill="#1a1a1a" stroke="#1a1a1a" stroke-width="0.3" textLength="42.4" lengthAdjust="spacingAndGlyphs">1400</text>
<text x="387.2" y="535.6" text-anchor="middle" font-size="17.00" fill="#1a1a1a" stroke="#1a1a1a" stroke-width="0.3" textLength="79.8" lengthAdjust="spacingAndGlyphs">Time/min</text>
<text x="387.5" y="21.8" text-anchor="middle" font-size="20.80" fill="#1a1a1a" stroke="#1a1a1a" stroke-width="0.3" textLength="138.6" lengthAdjust="spacingAndGlyphs">Vars of nodes</text>
<g transform="translate(20.7,259.8) rotate(-90)"><text x="0.0" y="0.0" text-anchor="middle" font-size="17.00" fill="#1a1a1a" stroke="#1a1a1a" stroke-width="0.3" textLength="114.1" lengthAdjust="spacingAndGlyphs">Vars of nodes</text></g>
<rect x="300.7" y="42.4" width="174.6" height="81.5" rx="3.3" ry="3.3" fill="#fff" fill-opacity="0.8" stroke="#cccccc" stroke-width="1.33"/>
<line x1="304.7" y1="55.7" x2="341.8" y2="55.7" stroke="#1b9bd2" stroke-width="2.60"/>
<path d="M318.3 50.7L328.3 60.7M318.3 60.7L328.3 50.7" stroke="#1b9bd2" stroke-width="2.00" fill="none"/>
<text x="355.1" y="61.7" text-anchor="start" font-size="17.00" fill="#1a1a1a" stroke="#1a1a1a" stroke-width="0.3" textLength="107.2" lengthAdjust="spacingAndGlyphs">RP-LBM-DQN</text>
<line x1="304.7" y1="81.5" x2="341.8" y2="81.5" stroke="#fa7a86" stroke-width="2.60"/>
<circle cx="323.3" cy="81.5" r="5.90" fill="#fa7a86"/>
<text x="355.1" y="87.5" text-anchor="start" font-size="17.00" fill="#1a1a1a" stroke="#1a1a1a" stroke-width="0.3" textLength="102.8" lengthAdjust="spacingAndGlyphs">RP-LBM-PPO</text>
<line x1="304.7" y1="106.9" x2="341.8" y2="106.9" stroke="#4db848" stroke-width="2.60"/>
<polygon points="323.30,102.20 324.59,105.12 327.77,105.45 325.39,107.58 326.06,110.70 323.30,109.10 320.54,110.70 321.21,107.58 318.83,105.45 322.01,105.12" fill="#4db848" stroke="#4db848" stroke-width="1.67" stroke-linejoin="round"/>
<text x="355.1" y="112.9" text-anchor="start" font-size="17.00" fill="#1a1a1a" stroke="#1a1a1a" stroke-width="0.3" textLength="112.0" lengthAdjust="spacingAndGlyphs">NO-Migration</text>
<rect x="535.1" y="83.75" width="164.7" height="30.35" fill="#fff" fill-opacity="0.82" stroke="#000" stroke-opacity="0.8" stroke-width="1.6"/>
<text x="542.6" y="102.6" text-anchor="start" font-size="17.00" fill="#00a03c" stroke="#00a03c" stroke-width="0.3" textLength="149.6" lengthAdjust="spacingAndGlyphs">Mean Var: 0.0478</text>
<rect x="535.1" y="280.50" width="164.7" height="29.70" fill="#fff" fill-opacity="0.82" stroke="#000" stroke-opacity="0.8" stroke-width="1.6"/>
<text x="542.6" y="299.6" text-anchor="start" font-size="17.00" fill="#0000ff" stroke="#0000ff" stroke-width="0.3" textLength="149.6" lengthAdjust="spacingAndGlyphs">Mean Var: 0.0213</text>
<rect x="535.1" y="398.10" width="164.7" height="31.00" fill="#fff" fill-opacity="0.82" stroke="#000" stroke-opacity="0.8" stroke-width="1.6"/>
<text x="542.6" y="417.8" text-anchor="start" font-size="17.00" fill="#ff0000" stroke="#ff0000" stroke-width="0.3" textLength="149.6" lengthAdjust="spacingAndGlyphs">Mean Var: 0.0206</text>
<text x="367.3" y="577.0" text-anchor="middle" font-size="25.6" fill="#111" style="font-family:'Liberation Serif',serif">(</text>
<text x="377.2" y="576.9" text-anchor="middle" font-size="25.2" font-weight="bold" fill="#111" stroke="#111" stroke-width="0.4" style="font-family:'Liberation Serif',serif">a</text>
<text x="387.9" y="577.0" text-anchor="middle" font-size="25.6" fill="#111" style="font-family:'Liberation Serif',serif">)</text>
</svg>
</body></html>
